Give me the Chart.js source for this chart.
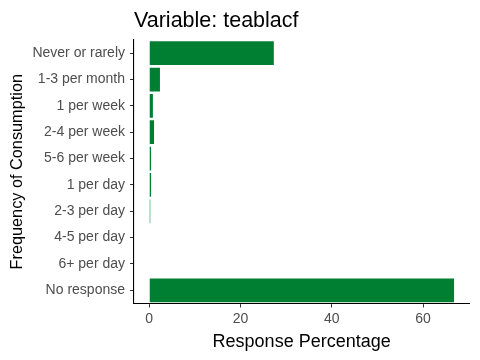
<!DOCTYPE html>
<html>
<head>
<meta charset="utf-8">
<script src="https://cdn.jsdelivr.net/npm/chart.js@4/dist/chart.umd.min.js"></script>
<style>
html,body{margin:0;padding:0;background:#fff;}
#wrap{width:480px;height:360px;position:relative;}
</style>
</head>
<body>
<div id="wrap"><canvas id="c" width="480" height="360"></canvas></div>
<script>
const titleText = "Variable: teablacf";
const categories = ["Never or rarely","1-3 per month","1 per week","2-4 per week","5-6 per week","1 per day","2-3 per day","4-5 per day","6+ per day","No response"];
const percentages = [27.3, 2.35, 0.8, 1.05, 0.4, 0.4, 0.22, 0, 0, 66.8];
const xTicks = [0, 20, 40, 60];
const xTitle = "Response Percentage";
const yTitle = "Frequency of Consumption";

const FONT = "'Liberation Sans', Arial, sans-serif";

const titlePlugin = {
  id: 'ggTitle',
  afterDraw(chart) {
    const ctx = chart.ctx;
    ctx.save();
    ctx.font = "21.5px " + FONT;
    ctx.fillStyle = "#000";
    ctx.textBaseline = "alphabetic";
    ctx.textAlign = "left";
    ctx.fillText(titleText, chart.chartArea.left, 27);
    ctx.restore();
  }
};

new Chart(document.getElementById('c'), {
  type: 'bar',
  data: {
    labels: categories,
    datasets: [{
      data: percentages,
      backgroundColor: '#007F33',
      borderWidth: 0,
      categoryPercentage: 1.0,
      barPercentage: 0.9
    }]
  },
  plugins: [titlePlugin],
  options: {
    indexAxis: 'y',
    responsive: false,
    animation: false,
    layout: { padding: { left: 0, right: 10.7, top: 40, bottom: 0 } },
    plugins: { legend: { display: false }, tooltip: { enabled: false } },
    scales: {
      x: {
        type: 'linear',
        min: -3.34,
        max: 70.14,
        afterBuildTicks(scale) { scale.ticks = xTicks.map(v => ({ value: v })); },
        afterFit(scale) { scale.height = 56.5; },
        grid: { drawOnChartArea: false, color: '#333', tickLength: 4, lineWidth: 1 },
        border: { color: '#000', width: 1.1 },
        ticks: { color: '#4D4D4D', font: { family: FONT, size: 14 }, padding: 3, autoSkip: false, maxRotation: 0 },
        title: { display: true, text: xTitle, color: '#000', font: { family: FONT, size: 18 }, padding: { top: 0, bottom: 7.5 } }
      },
      y: {
        type: 'category',
        offset: true,
        afterFit(scale) { scale.width = 134; },
        grid: { drawOnChartArea: false, color: '#333', tickLength: 4, lineWidth: 1, offset: false },
        border: { color: '#000', width: 1.1 },
        ticks: { color: '#4D4D4D', font: { family: FONT, size: 14 }, padding: 5, autoSkip: false },
        title: { display: true, text: yTitle, color: '#000', font: { family: FONT, size: 16.3 }, padding: { top: 8.2, bottom: 0 } }
      }
    }
  }
});
</script>
</body>
</html>
